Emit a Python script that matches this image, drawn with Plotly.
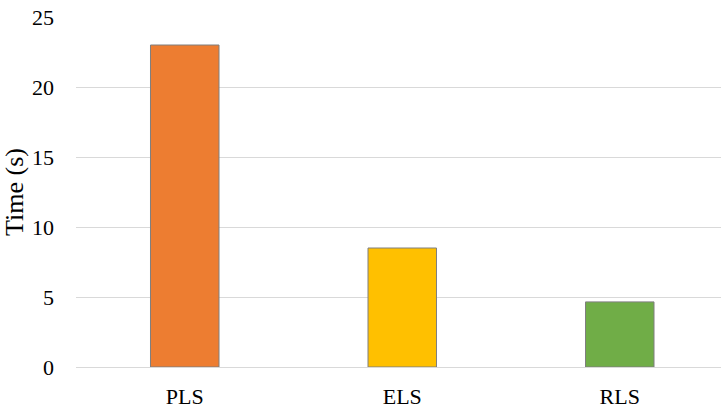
import plotly.graph_objects as go

categories = ["PLS", "ELS", "RLS"]
times = [23.0, 8.5, 4.65]
colors = ["#ED7D31", "#FFC000", "#70AD47"]
y_ticks = [0, 5, 10, 15, 20, 25]

fig = go.Figure(go.Bar(
    x=categories, y=times, width=0.315,
    marker=dict(color=colors, line=dict(color="#7f7f7f", width=1)),
))

fig.update_layout(
    width=721, height=409,
    margin=dict(l=76, r=0, t=17, b=42),
    paper_bgcolor="white", plot_bgcolor="white",
    font=dict(family="Liberation Serif, Times New Roman, serif", size=22, color="black"),
    showlegend=False,
)
fig.update_xaxes(
    range=[-0.5, 2.4655], showgrid=False, showline=True, linecolor="#d9d9d9", linewidth=1,
    ticks="outside", ticklen=10, tickcolor="rgba(0,0,0,0)",
)
fig.update_yaxes(
    range=[0, 25], tickvals=y_ticks, showgrid=True, gridcolor="#d9d9d9", gridwidth=1,
    zeroline=False, showline=False, ticklabelstandoff=21,
    title=dict(text="Time (s)", standoff=3),
)

fig.write_html("out.html")
